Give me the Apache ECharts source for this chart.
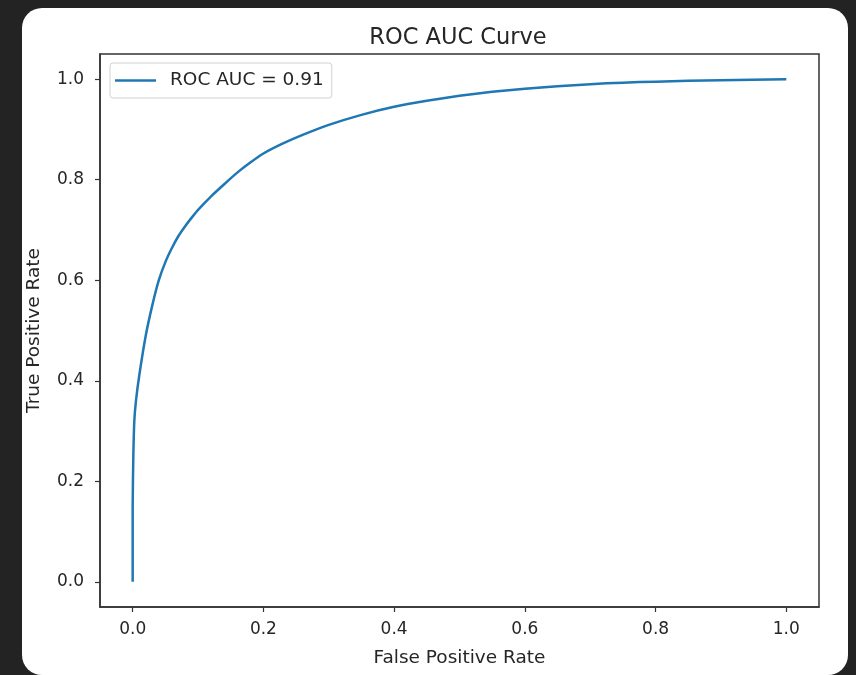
<!DOCTYPE html>
<html>

<head>
    <meta charset="utf-8">
    <style>
        html, body { margin: 0; height: 100%; background: #232323; }
        #card {
            position: absolute; left: 22px; top: 8px; width: 826px; height: 667px;
            background: #fff; border-radius: 20px;
        }
        #container { position: absolute; left: 0; top: 0; width: 856px; height: 675px; }
    </style>
</head>

<body>
    <div id="card"></div>
    <div id="container"></div>
    <script type="text/javascript" src="https://cdn.jsdelivr.net/npm/echarts@6/dist/echarts.min.js"></script>
    <script type="text/javascript">
        // values
        var fpr = [0, 0, 0.001, 0.0025, 0.005, 0.01, 0.02, 0.03, 0.04, 0.05, 0.06, 0.07, 0.08, 0.09, 0.10,
            0.12, 0.14, 0.16, 0.18, 0.20, 0.23, 0.26, 0.30, 0.35, 0.40, 0.45, 0.50, 0.55, 0.60, 0.65,
            0.70, 0.75, 0.80, 0.90, 1.0];
        var tpr = [0, 0.15, 0.25, 0.32, 0.36, 0.41, 0.49, 0.55, 0.60, 0.636, 0.664, 0.688, 0.707, 0.724, 0.740,
            0.767, 0.791, 0.814, 0.834, 0.852, 0.872, 0.889, 0.909, 0.929, 0.945, 0.957, 0.967, 0.975, 0.981, 0.986,
            0.990, 0.993, 0.995, 0.998, 1.0];
        var xTicks = [0, 0.2, 0.4, 0.6, 0.8, 1.0];
        var yTicks = [0, 0.2, 0.4, 0.6, 0.8, 1.0];
        var seriesName = 'ROC AUC = 0.91';

        var points = fpr.map(function (v, i) { return [v, tpr[i]]; });
        var font = 'DejaVu Sans';
        var ink = '#262626';

        var myChart = echarts.init(document.getElementById('container'));
        var option = {
            backgroundColor: 'transparent',
            animation: false,
            title: {
                text: 'ROC AUC Curve',
                left: 453,
                top: 22,
                textAlign: 'center',
                textStyle: { fontFamily: font, fontSize: 22.5, fontWeight: 'normal', color: ink }
            },
            legend: {
                left: 110,
                top: 63,
                padding: [8, 8, 8, 5],
                itemWidth: 41,
                itemHeight: 2.5,
                icon: 'rect',
                borderColor: '#d0d0d0',
                borderWidth: 1,
                borderRadius: 3,
                backgroundColor: 'rgba(255,255,255,0.8)',
                textStyle: { fontFamily: font, fontSize: 18.5, color: ink, padding: [0, 0, 0, 9] },
                data: [seriesName]
            },
            grid: {
                left: 100, top: 54, right: 37, bottom: 68,
                show: true, borderColor: '#333', borderWidth: 1.5, backgroundColor: 'transparent'
            },
            xAxis: {
                type: 'value',
                min: -0.05,
                max: 1.05,
                name: 'False Positive Rate',
                nameLocation: 'middle',
                nameGap: 42,
                nameTextStyle: { fontFamily: font, fontSize: 18.5, color: ink },
                axisLine: { show: true, onZero: false, lineStyle: { color: '#333', width: 1.5 } },
                splitLine: { show: false },
                axisTick: { show: true, length: 5, customValues: xTicks, lineStyle: { color: '#333', width: 1.2 } },
                axisLabel: {
                    customValues: xTicks, margin: 14, fontFamily: font, fontSize: 17, color: ink,
                    formatter: function (v) { return v.toFixed(1); }
                }
            },
            yAxis: {
                type: 'value',
                min: -0.05,
                max: 1.05,
                name: 'True Positive Rate',
                nameLocation: 'middle',
                nameGap: 56,
                nameTextStyle: { fontFamily: font, fontSize: 18.5, color: ink },
                axisLine: { show: true, onZero: false, lineStyle: { color: '#333', width: 1.5 } },
                splitLine: { show: false },
                axisTick: { show: true, length: 5, customValues: yTicks, lineStyle: { color: '#333', width: 1.2 } },
                axisLabel: {
                    customValues: yTicks, margin: 16, fontFamily: font, fontSize: 17, color: ink,
                    formatter: function (v) { return v.toFixed(1); }
                }
            },
            series: [{
                name: seriesName,
                type: 'line',
                data: points,
                symbol: 'none',
                smooth: 0.2,
                lineStyle: { color: '#1f77b4', width: 2.5 },
                itemStyle: { color: '#1f77b4' }
            }]
        };
        myChart.setOption(option);
    </script>
</body>

</html>
